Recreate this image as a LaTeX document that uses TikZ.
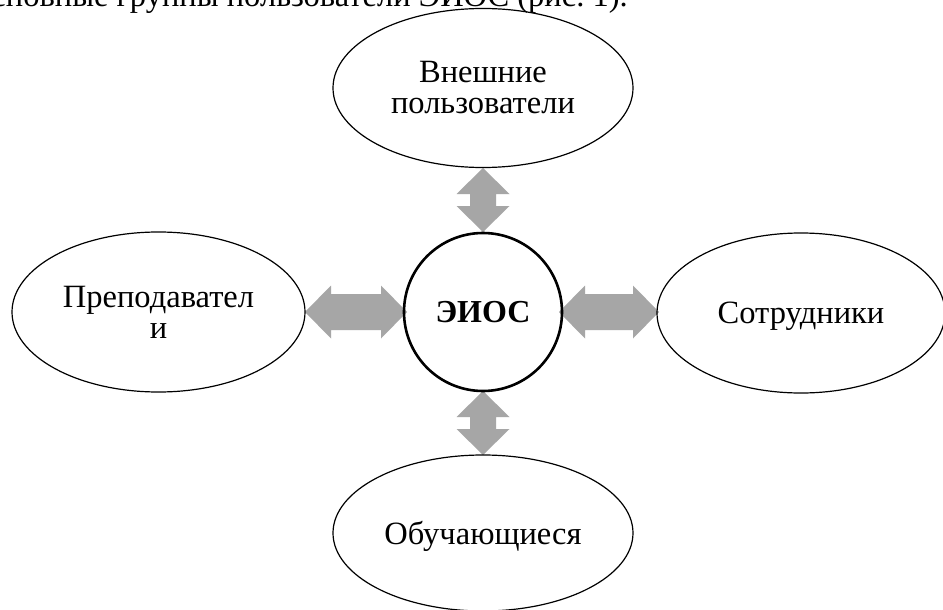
\documentclass[tikz,border=0pt]{standalone}
\usepackage{fontspec}
\setmainfont{Liberation Serif}
\usetikzlibrary{shapes.geometric,calc}
\definecolor{arrgray}{HTML}{A6A6A6}
\tikzset{
  user/.style={draw=black, line width=1.2pt, ellipse, inner sep=0pt, align=center,
    font=\fontsize{32.5pt}{31pt}\selectfont},
  core/.style={draw=black, line width=2.6pt, circle, inner sep=0pt, minimum size=158pt,
    font=\fontsize{32pt}{34pt}\selectfont\bfseries},
  arr/.style={fill=arrgray, draw=none},
  caption/.style={inner sep=0pt, font=\fontsize{32.5pt}{31pt}\selectfont}
}
\begin{document}
\begin{tikzpicture}[x=1pt, y=-1pt]
\useasboundingbox (0,0) rectangle (943,610);
\fill[white] (0,0) rectangle (943,610);
\node[caption, anchor=base east] (cap) at (628,7) {основные группы пользователи ЭИОС (рис.~1).};

% arrows (drawn below nodes)
\coordinate (tS) at (483,168);
\coordinate (cN) at (483,232);
\coordinate (cS) at (483,391);
\coordinate (bN) at (483,455);
\coordinate (lE) at (305,312);
\coordinate (cW) at (407,312);
\coordinate (cE) at (559,312);
\coordinate (rE) at (659,312);

\fill[arr] let \p1=(lE), \p2=(cW) in
  (\x1,\y1) -- (\x1+26pt,\y1+26.5pt) -- (\x1+26pt,\y1+18pt) -- (\x2-26pt,\y1+18pt)
  -- (\x2-26pt,\y1+26.5pt) -- (\x2,\y1) -- (\x2-26pt,\y1-26.5pt) -- (\x2-26pt,\y1-18pt)
  -- (\x1+26pt,\y1-18pt) -- (\x1+26pt,\y1-26.5pt) -- cycle;
\fill[arr] let \p1=(cE), \p2=(rE) in
  (\x1,\y1) -- (\x1+26pt,\y1+26.5pt) -- (\x1+26pt,\y1+18pt) -- (\x2-26pt,\y1+18pt)
  -- (\x2-26pt,\y1+26.5pt) -- (\x2,\y1) -- (\x2-26pt,\y1-26.5pt) -- (\x2-26pt,\y1-18pt)
  -- (\x1+26pt,\y1-18pt) -- (\x1+26pt,\y1-26.5pt) -- cycle;
\fill[arr] let \p1=(tS), \p2=(cN) in
  (\x1,\y1) -- (\x1+26.5pt,\y1-26pt) -- (\x1+13pt,\y1-26pt) -- (\x1+13pt,\y2+26pt)
  -- (\x1+26.5pt,\y2+26pt) -- (\x1,\y2) -- (\x1-26.5pt,\y2+26pt) -- (\x1-13pt,\y2+26pt)
  -- (\x1-13pt,\y1-26pt) -- (\x1-26.5pt,\y1-26pt) -- cycle;
\fill[arr] let \p1=(cS), \p2=(bN) in
  (\x1,\y1) -- (\x1+26.5pt,\y1-26pt) -- (\x1+13pt,\y1-26pt) -- (\x1+13pt,\y2+26pt)
  -- (\x1+26.5pt,\y2+26pt) -- (\x1,\y2) -- (\x1-26.5pt,\y2+26pt) -- (\x1-13pt,\y2+26pt)
  -- (\x1-13pt,\y1-26pt) -- (\x1-26.5pt,\y1-26pt) -- cycle;

\node[user, minimum width=300pt, minimum height=159pt] (top) at (483,88) {Внешние\\пользователи};
\node[user, minimum width=293pt, minimum height=160pt] (left) at (158.5,312) {Преподавател\\и};
\node[user, minimum width=288pt, minimum height=160pt, text depth=0pt] (right) at (801,313) {Сотрудники};
\node[user, minimum width=300pt, minimum height=156pt, text depth=0pt] (bottom) at (483,533) {Обучающиеся};
\node[core] (eios) at (483,312) {ЭИОС};
\end{tikzpicture}
\end{document}
